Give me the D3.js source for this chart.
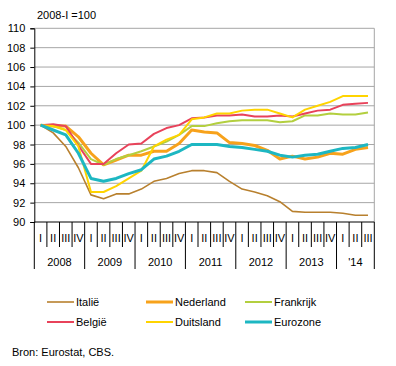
<!DOCTYPE html>
<html>
<head>
<meta charset="utf-8">
<script src="https://cdn.jsdelivr.net/npm/d3@7"></script>
<style>
  body { margin: 0; background: #fff; }
  svg text { font-family: "Liberation Sans", Arial, sans-serif; font-size: 11px; fill: #000; }
</style>
</head>
<body>
<svg id="chart"></svg>
<script>
const years = ['2008', '2009', '2010', '2011', '2012', '2013', "'14"];
const quarterNames = ['I', 'II', 'III', 'IV'];
const quarterCount = 27;  // 2008-I .. 2014-III

const italie     = [100, 99.2, 97.8, 95.6, 92.8, 92.4, 92.9, 92.9, 93.4, 94.2, 94.5, 95.0, 95.3, 95.3, 95.1, 94.2, 93.4, 93.1, 92.7, 92.1, 91.1, 91.0, 91.0, 91.0, 90.9, 90.7, 90.7];
const nederland  = [100, 99.9, 99.9, 98.8, 97.1, 95.9, 96.4, 96.9, 96.9, 97.3, 97.3, 98.1, 99.5, 99.3, 99.2, 98.2, 98.1, 97.9, 97.4, 96.5, 96.8, 96.5, 96.7, 97.1, 97.0, 97.5, 97.7];
const frankrijk  = [100, 99.9, 99.5, 98.2, 96.5, 95.9, 96.5, 96.9, 97.3, 97.8, 98.3, 99.0, 99.9, 99.9, 100.2, 100.4, 100.5, 100.5, 100.5, 100.3, 100.4, 101.0, 101.0, 101.2, 101.1, 101.1, 101.3];
const belgie     = [100, 100.1, 99.9, 97.9, 96.0, 96.0, 97.1, 98.0, 98.1, 99.1, 99.7, 100.0, 100.7, 100.8, 101.0, 101.0, 101.1, 100.9, 100.9, 101.0, 100.9, 101.2, 101.5, 101.6, 102.1, 102.2, 102.3];
const duitsland  = [100, 99.9, 99.5, 97.8, 93.1, 93.1, 93.7, 94.5, 95.3, 97.8, 98.5, 99.0, 100.6, 100.8, 101.2, 101.2, 101.5, 101.6, 101.6, 101.2, 100.8, 101.6, 102.0, 102.4, 103.0, 103.0, 103.0];
const eurozone   = [100, 99.5, 99.0, 97.1, 94.5, 94.2, 94.5, 95.0, 95.4, 96.5, 96.8, 97.3, 98.0, 98.0, 98.0, 97.8, 97.7, 97.5, 97.3, 96.9, 96.7, 96.9, 97.0, 97.3, 97.6, 97.7, 98.0];

const yTicks = [90, 92, 94, 96, 98, 100, 102, 104, 106, 108, 110];

const series = [
  {name: 'Italië',    values: italie,    color: '#b8802e', width: 1.6},
  {name: 'Nederland', values: nederland, color: '#f7a21b', width: 3},
  {name: 'Frankrijk', values: frankrijk, color: '#b3cf3f', width: 2},
  {name: 'België',    values: belgie,    color: '#e8425a', width: 2},
  {name: 'Duitsland', values: duitsland, color: '#ffd400', width: 2},
  {name: 'Eurozone',  values: eurozone,  color: '#1db7c2', width: 3},
];
// legend layout: column, row
const legendOrder = [[0, 0], [1, 0], [2, 0], [0, 1], [1, 1], [2, 1]];

const width = 396, height = 366;
const margin = {top: 28.3, right: 21.7, bottom: 144, left: 34.3};
const plotW = width - margin.left - margin.right;
const plotH = height - margin.top - margin.bottom;

const svg = d3.select('#chart').attr('width', width).attr('height', height);
const g = svg.append('g').attr('transform', `translate(${margin.left},${margin.top})`);

const quarters = d3.range(quarterCount);
const x = d3.scalePoint().domain(quarters).range([0, plotW]).padding(0.5);
const step = x.step();
const y = d3.scaleLinear().domain([90, 110]).range([plotH, 0]);

// grid
g.append('g')
  .selectAll('line')
  .data(yTicks.filter(t => t > 90))
  .enter().append('line')
  .attr('x1', 0).attr('x2', plotW)
  .attr('y1', d => y(d)).attr('y2', d => y(d))
  .attr('stroke', '#a6a6a6').attr('stroke-width', 1);

// right border
g.append('line')
  .attr('x1', plotW).attr('x2', plotW).attr('y1', 0).attr('y2', plotH)
  .attr('stroke', '#a6a6a6');

// y axis
const yAxis = g.append('g')
  .call(d3.axisLeft(y).tickValues(yTicks).tickSize(4).tickPadding(5).tickFormat(d3.format('d')));
yAxis.selectAll('text').style('font-size', '11px');
yAxis.select('.domain').attr('stroke', '#000');

// x axis line
g.append('line')
  .attr('x1', 0).attr('x2', plotW).attr('y1', plotH).attr('y2', plotH)
  .attr('stroke', '#000');

// quarter separators and labels
const xa = g.append('g').attr('transform', `translate(0,${plotH})`);
for (let i = 0; i <= quarterCount; i++) {
  const bx = i * step;
  const yearBoundary = i % 4 === 0 || i === quarterCount;
  xa.append('line')
    .attr('x1', bx).attr('x2', bx)
    .attr('y1', 0).attr('y2', yearBoundary ? 47 : 25)
    .attr('stroke', '#000');
}
quarters.forEach(q => {
  xa.append('text')
    .attr('x', x(q)).attr('y', 20)
    .attr('text-anchor', 'middle')
    .text(quarterNames[q % 4]);
});
years.forEach((yr, i) => {
  const q0 = i * 4;
  const q1 = Math.min(q0 + 4, quarterCount);
  xa.append('text')
    .attr('x', (q0 + q1) / 2 * step).attr('y', 44)
    .attr('text-anchor', 'middle')
    .text(yr);
});

// lines
const line = d3.line()
  .x((d, i) => x(i))
  .y(d => y(d));
g.append('g')
  .selectAll('path')
  .data(series)
  .enter().append('path')
  .attr('d', d => line(d.values))
  .attr('fill', 'none')
  .attr('stroke', d => d.color)
  .attr('stroke-width', d => d.width)
  .attr('stroke-linejoin', 'round');

// header
svg.append('text').attr('x', 37).attr('y', 19).text('2008-I =100');

// legend
const colX = [47, 146, 245];
const rowY = [302, 322];
series.forEach((s, i) => {
  const [c, r] = legendOrder[i];
  const lg = svg.append('g').attr('transform', `translate(${colX[c]},${rowY[r]})`);
  lg.append('line')
    .attr('x1', 0).attr('x2', 27).attr('y1', 0).attr('y2', 0)
    .attr('stroke', s.color).attr('stroke-width', s.width);
  lg.append('text').attr('x', 29).attr('y', 4).text(s.name);
});

svg.append('text').attr('x', 12).attr('y', 356).text('Bron: Eurostat, CBS.');
</script>
</body>
</html>
